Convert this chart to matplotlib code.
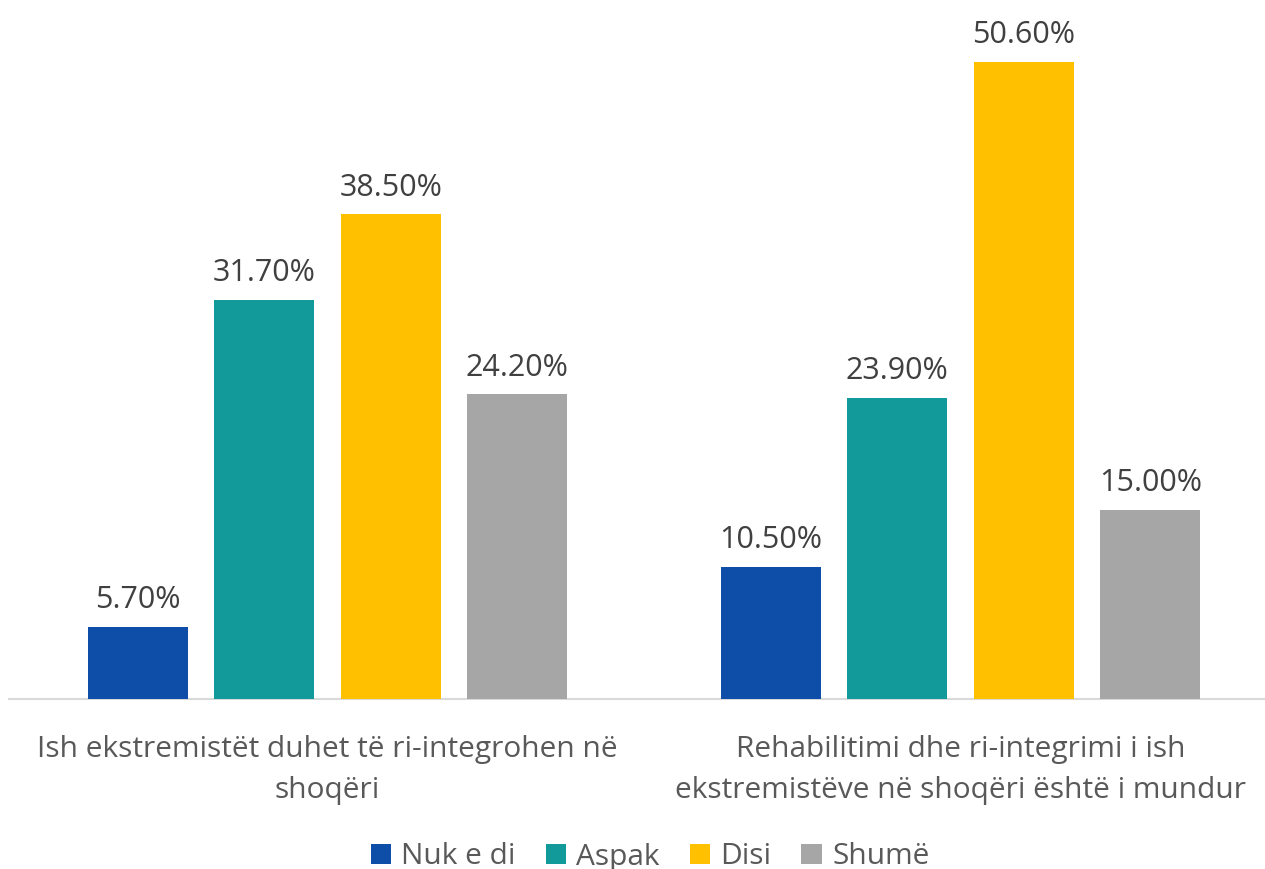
import matplotlib
matplotlib.use("Agg")
import matplotlib.pyplot as plt
import numpy as np
from matplotlib.patches import Patch

plt.rcParams['font.family'] = ['Open Sans', 'DejaVu Sans']

categories = ["Ish ekstremistët duhet të ri-integrohen në\nshoqëri",
              "Rehabilitimi dhe ri-integrimi i ish\nekstremistëve në shoqëri është i mundur"]
series_names = ["Nuk e di", "Aspak", "Disi", "Shumë"]
values = {
    "Nuk e di": [5.7, 10.5],
    "Aspak": [31.7, 23.9],
    "Disi": [38.5, 50.6],
    "Shumë": [24.2, 15.0],
}
colors = ["#0E4DA8", "#129A9A", "#FFC000", "#A6A6A6"]

W, H = 1265, 869
fig = plt.figure(figsize=(W / 100, H / 100), dpi=100)
ax = fig.add_axes([9 / W, (H - 699) / H, (W - 9) / W, 699 / H])

pitch = 0.2
width = 0.158
x = np.arange(len(categories))
for i, name in enumerate(series_names):
    pos = x + (i - 1.5) * pitch
    bars = ax.bar(pos, values[name], width=width, color=colors[i], zorder=3)
    for b, v in zip(bars, values[name]):
        ax.annotate(f"{v:.2f}%", (b.get_x() + b.get_width() / 2, v),
                    xytext=(0, 13.5), textcoords="offset points",
                    ha="center", va="baseline", fontsize=22, color="#404040")

unit_px = 633
x0 = -0.5 - 2 / unit_px
ax.set_xlim(x0, x0 + (W - 9) / unit_px)
ax.set_ylim(0, 699 / 12.59)
ax.set_xticks(x)
ax.set_xticklabels(categories, fontsize=21.5, color="#595959", linespacing=1.55)
ax.tick_params(axis="x", length=0, pad=26)
ax.set_yticks([])
for s in ["top", "right", "left"]:
    ax.spines[s].set_visible(False)
ax.spines["bottom"].set_color("#D9D9D9")
ax.spines["bottom"].set_linewidth(1.5)

handles = [Patch(facecolor=c, edgecolor="none") for c in colors]
fig.legend(handles, series_names, loc="center", bbox_to_anchor=(650 / W, 1 - 857 / H),
           ncol=4, frameon=False, fontsize=21.5, labelcolor="#595959",
           handlelength=0.68, handleheight=0.68, handletextpad=0.35, columnspacing=1.0,
           borderpad=0, borderaxespad=0)

fig.savefig("out.png", dpi=100, facecolor="white")
